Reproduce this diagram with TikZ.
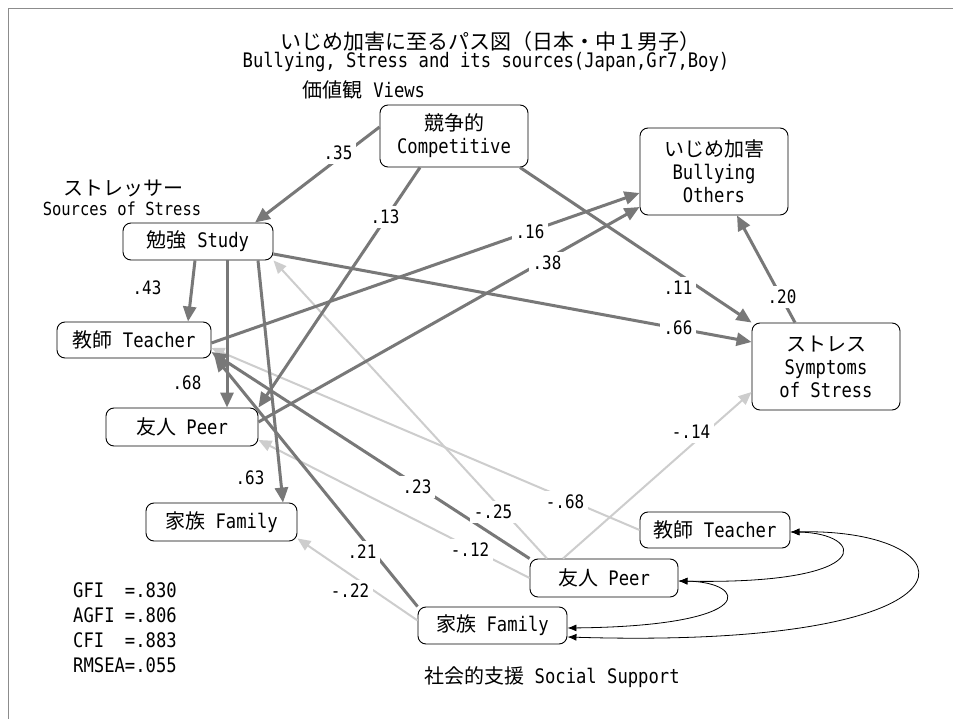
\documentclass[tikz,border=0pt]{standalone}
\usepackage{fontspec}
\setmainfont{DejaVu Sans Mono}[FakeStretch=0.86]
\newfontfamily\jpf{Noto Sans CJK JP}
\usetikzlibrary{calc,arrows.meta}
\newcommand\LT{\fontsize{20}{23}\selectfont}
\newcommand\LS{\fontsize{18.5}{20}\selectfont}
\newcommand\LSS{\fontsize{18}{20}\selectfont}
\newcommand\JP[1]{{\jpf\fontsize{20}{23}\selectfont #1}}
\newcommand\JT[1]{{\jpf\fontsize{21}{23}\selectfont #1}}
\definecolor{darkc}{RGB}{120,120,120}
\definecolor{lightc}{RGB}{205,205,205}
\definecolor{framec}{RGB}{140,140,140}
\begin{document}
\begin{tikzpicture}[x=1pt,y=-1pt,
  box/.style={draw, rounded corners=8pt, line width=0.9pt, fill=white, inner sep=0pt, align=center, font=\LT},
  darr/.style={draw=darkc, line width=3pt, -{Triangle[length=15pt,width=13pt]}},
  larr/.style={draw=lightc, line width=2pt, -{Triangle[length=13pt,width=11pt]}},
  cov/.style={draw=black, line width=0.8pt, {Latex[length=9pt,width=7pt]}-{Latex[length=9pt,width=7pt]}},
  lbl/.style={fill=white, inner sep=4pt, font=\LS},
  txt/.style={inner sep=0pt, font=\LT}]
\useasboundingbox (0,0) rectangle (953,719);
\fill[white] (0,0) rectangle (953,719);
\draw[framec, line width=1pt] (8,719) -- (8,9) -- (953,9);

% titles
\node[txt] (t1) at (490,42) {\JT{いじめ加害に至るパス図（日本・中１男子）}};
\node[txt] (t2) at (486,62) {Bullying, Stress and its sources(Japan,Gr7,Boy)};
\node[txt] (views) at (364,90) {\JP{価値観} Views};
\node[txt] (ssl1) at (123,188) {\JP{ストレッサー}};
\node[txt, font=\LSS] (ssl2) at (122,209) {Sources of Stress};
\node[txt] (ssup) at (552,677) {\JP{社会的支援} Social Support};

% boxes
\node[box, minimum width=148pt, minimum height=62pt] (comp) at (454,136) {\JP{競争的}\\Competitive};
\node[box, minimum width=148pt, minimum height=87pt] (bully) at (714,171.5) {\JP{いじめ加害}\\Bullying\\Others};
\node[box, minimum width=148pt, minimum height=87pt] (stress) at (826,366.5) {\JP{ストレス}\\Symptoms\\of Stress};
\node[box, minimum width=150pt, minimum height=37pt] (study) at (198,241.5) {\JP{勉強} Study};
\node[box, minimum width=154pt, minimum height=36pt] (teach) at (134,340) {\JP{教師} Teacher};
\node[box, minimum width=152pt, minimum height=38pt] (peer) at (182,427) {\JP{友人} Peer};
\node[box, minimum width=151pt, minimum height=38pt] (fam) at (221.5,522) {\JP{家族} Family};
\node[box, minimum width=150pt, minimum height=36pt] (steach) at (715,530) {\JP{教師} Teacher};
\node[box, minimum width=148pt, minimum height=38pt] (speer) at (604,578) {\JP{友人} Peer};
\node[box, minimum width=149pt, minimum height=37pt] (sfam) at (492.5,625.5) {\JP{家族} Family};

% fit indices
\node[txt, anchor=west] (fit1) at (73,590) {GFI\hphantom{AA}=.830};
\node[txt, anchor=west] (fit2) at (73,615) {AGFI\hphantom{A}=.806};
\node[txt, anchor=west] (fit3) at (73,640) {CFI\hphantom{AA}=.883};
\node[txt, anchor=west] (fit4) at (73,665) {RMSEA=.055};

% negative (light) paths
\draw[larr] ($(speer.north)+(-57,0)$) -- (study.south east);
\draw[larr] (steach.west) -- ($(teach.east)+(0,8)$);
\draw[larr] (speer.west) -- ($(peer.east)+(0,13)$);
\draw[larr] ($(sfam.west)+(0,-5)$) -- ($(fam.south east)+(0,-3)$);
\draw[larr] ($(speer.north)+(-41,0)$) -- ($(stress.west)+(0,25.5)$);

% positive (dark) paths
\draw[darr] ($(comp.west)+(0,-9)$) -- ($(study.north)+(57,0)$);
\draw[darr] ($(comp.south)+(-34,0)$) -- (peer.north east);
\draw[darr] ($(comp.south)+(66,0)$) -- (stress.north west);
\draw[darr] ($(study.south)+(-3,0)$) -- ($(teach.north)+(54,0)$);
\draw[darr] ($(study.south)+(29,0)$) -- ($(peer.north)+(45,0)$);
\draw[darr] ($(study.south)+(60,0)$) -- ($(fam.north)+(61.5,0)$);
\draw[darr] ($(study.east)+(0,12.5)$) -- ($(stress.west)+(0,-24.5)$);
\draw[darr] ($(teach.east)+(0,3)$) -- ($(bully.west)+(0,21.5)$);
\draw[darr] ($(peer.east)+(0,-5)$) -- ($(bully.west)+(0,35.5)$);
\draw[darr] ($(stress.north)+(-31,0)$) -- ($(bully.south)+(23,0)$);
\draw[darr] (speer.north west) -- ($(teach.east)+(0,12)$);
\draw[darr] (sfam.north west) -- ($(teach.south east)+(3,-2)$);

% covariances
\draw[cov] ($(steach.east)+(0,2)$) .. controls (865,533) and (880,585) .. ($(speer.east)+(0,3)$);
\draw[cov] ($(speer.east)+(0,3)$) .. controls (748,582) and (762,626) .. ($(sfam.east)+(0,2.5)$);
\draw[cov] ($(steach.east)+(0,2)$) .. controls (975,528) and (1000,650) .. ($(sfam.east)+(0,11.5)$);

% coefficient labels
\node[lbl] (l35) at (338,153) {.35};
\node[lbl] (l13) at (385,217) {.13};
\node[lbl] (l11) at (678,288) {.11};
\node[lbl] (l43) at (147,288) {.43};
\node[lbl] (l68) at (187,383) {.68};
\node[lbl] (l63) at (250,478) {.63};
\node[lbl] (l66) at (678,328) {.66};
\node[lbl] (l16) at (530,232) {.16};
\node[lbl] (l38) at (547,263) {.38};
\node[lbl] (l20) at (782,297) {.20};
\node[lbl] (l23) at (417,487) {.23};
\node[lbl] (l21) at (362,552) {.21};
\node[lbl] (lm25) at (493,512) {-.25};
\node[lbl] (lm68) at (565,502) {-.68};
\node[lbl] (lm12) at (470,550) {-.12};
\node[lbl] (lm22) at (350,591) {-.22};
\node[lbl] (lm14) at (691,432) {-.14};
\end{tikzpicture}
\end{document}
